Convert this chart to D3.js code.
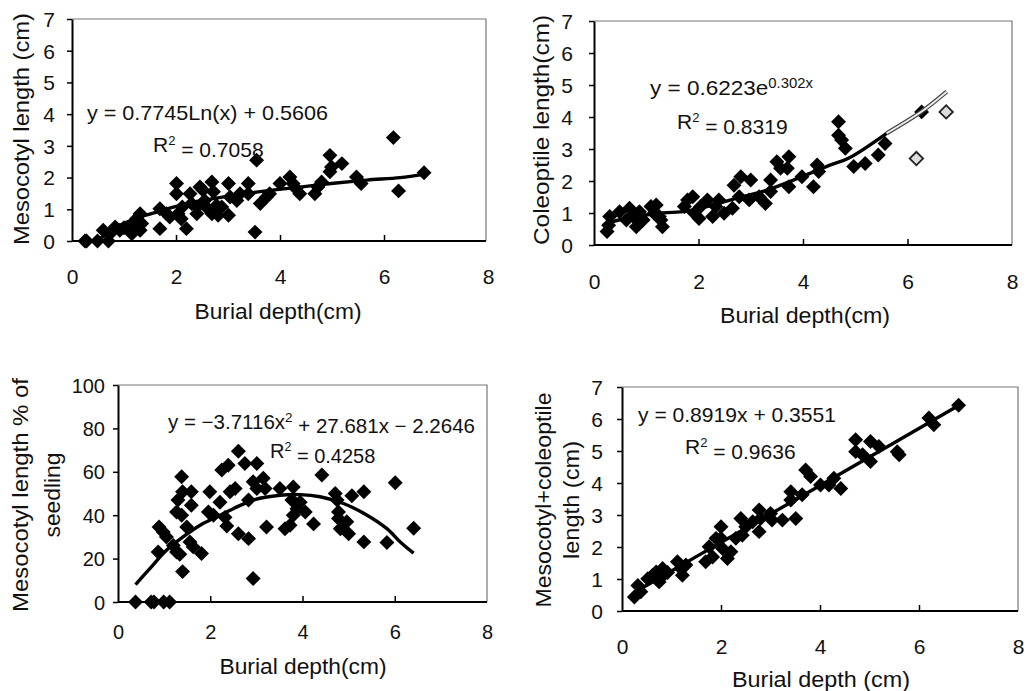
<!DOCTYPE html>
<html><head><meta charset="utf-8">
<script src="https://cdn.jsdelivr.net/npm/d3@7"></script>
<style>
body{margin:0;background:#fff}
text{font-family:"Liberation Sans",Arial,sans-serif;fill:#111}
</style>
</head><body>
<svg id="c" width="1026" height="691"></svg>
<script>
// ---------- tick labels ----------
const xTicks = [0, 2, 4, 6, 8];
const yTicksCm = [0, 1, 2, 3, 4, 5, 6, 7];
const yTicksPct = [0, 20, 40, 60, 80, 100];

// ---------- panel 1: mesocotyl length ----------
const mesoPts = [[0.25,0],[0.28,0],[0.49,0],[0.6,0.34],[0.7,0],[0.73,0.23],[0.83,0.44],[0.92,0.34],[1.0,0.42],
 [1.15,0.34],[1.18,0.55],[1.24,0.7],[1.31,0.86],[1.31,0.34],[1.34,0.55],[1.15,0.23],[1.69,0.39],[1.69,1.02],
 [1.82,0.86],[1.88,0.76],[2.01,1.81],[2.01,1.49],[2.04,0.86],[2.1,0.7],[2.2,0.39],[2.12,1.07],[2.27,1.49],
 [2.3,1.18],[2.4,1.07],[2.4,0.86],[2.46,1.7],[2.52,1.6],[2.55,1.28],[2.58,1.07],[2.69,1.86],[2.72,1.55],
 [2.69,0.86],[2.78,1.12],[2.81,0.81],[2.88,1.07],[3.01,1.81],[3.01,0.81],[3.04,1.39],[3.17,1.28],[3.23,1.49],
 [3.39,1.81],[3.39,1.49],[3.52,0.28],[3.55,2.55],[3.62,1.18],[3.74,1.39],[3.8,1.49],[4.0,1.81],[4.19,2.02],
 [4.25,1.81],[4.31,1.65],[4.38,1.49],[4.67,1.49],[4.73,1.7],[4.8,1.86],[4.96,2.7],[4.96,2.18],[4.99,2.33],
 [5.19,2.44],[5.47,2.02],[5.56,1.81],[6.18,3.26],[6.28,1.58],[6.77,2.15]];
const mesoTrend = [[0.5,0.02],[0.8,0.38],[1.2,0.7],[1.56,0.88],[1.95,1.07],[2.46,1.26],[3.1,1.44],[3.74,1.58],
 [4.38,1.7],[5.03,1.82],[5.67,1.92],[6.31,2.0],[6.77,2.1]];

// ---------- panel 2: coleoptile length ----------
const colePts = [[0.25,0.42],[0.3,0.89],[0.28,0.62],[0.49,1.04],[0.62,0.78],[0.68,1.15],[0.75,0.89],[0.81,0.57],
 [0.87,1.04],[0.94,0.78],[1.09,1.2],[1.15,0.99],[1.19,1.25],[1.25,0.89],[1.31,0.57],[1.28,0.78],[1.73,1.2],
 [1.79,1.41],[1.89,1.51],[1.92,0.99],[2.01,0.83],[2.04,1.2],[2.17,1.41],[2.27,0.89],[2.33,1.2],[2.39,1.41],
 [2.49,0.99],[2.65,1.15],[2.68,1.87],[2.81,2.13],[2.78,1.51],[3.0,2.03],[2.97,1.41],[3.16,1.51],[3.28,1.3],
 [3.38,2.03],[3.38,1.67],[3.5,2.6],[3.57,2.4],[3.73,2.76],[3.7,2.4],[3.73,1.82],[3.98,2.13],[4.2,1.82],
 [4.27,2.5],[4.3,2.3],[4.68,3.85],[4.68,3.43],[4.74,3.28],[4.81,3.02],[4.97,2.45],[5.19,2.55],[5.44,2.81],
 [5.57,3.17],[6.27,4.16]];
const coleLight = [[6.17,2.7],[6.74,4.16]];
const coleTrend = [[0.25,0.68],[0.68,0.86],[1.31,1.0],[1.76,1.05],[2.27,1.25],[2.77,1.48],[3.28,1.7],
 [3.85,2.05],[4.49,2.48],[4.87,2.71],[5.6,3.49],[6.27,4.17],[6.75,4.79]];

// ---------- panel 3: mesocotyl % of seedling ----------
const pctPts = [[0.38,0],[0.72,0],[0.78,0],[0.99,0],[1.12,0],[0.87,23],[0.89,34.6],[0.98,32.3],[1.05,30],
 [1.2,26],[1.27,23],[1.34,22],[1.4,14],[1.38,57.7],[1.3,47],[1.27,41.5],[1.38,40],[1.4,50.8],[1.59,50.8],
 [1.59,44.6],[1.56,27.7],[1.63,25.4],[1.81,22.3],[1.49,34.6],[1.99,50.8],[1.96,41.5],[2.07,40],[2.21,46],
 [2.25,60.8],[2.39,63],[2.32,39],[2.36,35],[2.43,50.8],[2.54,52.3],[2.61,69.5],[2.61,31.5],[2.75,63.8],
 [2.83,29.2],[2.83,47],[2.93,10.8],[2.93,55.4],[3.01,63.8],[3.01,52.3],[3.15,57],[3.19,52.3],[3.22,34.6],
 [3.51,52.3],[3.62,33.8],[3.73,35.4],[3.8,53],[3.77,47],[3.88,43],[3.8,40],[3.95,46],[4.06,41.5],[4.24,36],
 [4.42,58.5],[4.71,50],[4.75,47],[4.78,41.5],[4.78,38.5],[4.82,33.8],[4.96,37],[5.0,31.5],[5.07,49],
 [5.33,50.8],[5.33,27.7],[5.83,27.4],[6.01,55],[6.41,34]];
const pctTrend = [[0.38,8],[0.69,15.4],[1.05,23.8],[1.41,30],[1.78,35.4],[2.14,39.2],[2.5,43],[2.93,47],
 [3.51,49.2],[3.95,49.5],[4.38,48.5],[4.89,45.4],[5.4,40],[5.83,33.8],[6.12,27.7],[6.41,22.5]];

// ---------- panel 4: mesocotyl + coleoptile ----------
const sumPts = [[0.25,0.44],[0.32,0.8],[0.38,0.6],[0.52,1.01],[0.62,1.12],[0.69,1.22],[0.75,0.91],[0.82,1.33],
 [0.79,1.05],[0.92,1.2],[1.12,1.54],[1.19,1.33],[1.22,1.12],[1.29,1.44],[1.69,1.54],[1.76,2.01],[1.83,1.69],
 [1.9,2.27],[2.0,2.63],[2.0,2.27],[2.03,1.95],[2.13,1.64],[2.2,1.85],[2.3,2.27],[2.4,2.89],[2.43,2.37],
 [2.5,2.63],[2.64,2.79],[2.77,2.48],[2.77,3.16],[2.8,2.89],[3.0,3.05],[3.03,2.84],[3.24,2.84],[3.51,2.89],
 [3.41,3.73],[3.41,3.47],[3.64,3.63],[3.71,4.41],[3.81,4.2],[4.01,3.94],[4.18,3.94],[4.28,4.15],[4.42,3.83],
 [4.72,5.35],[4.72,4.98],[4.86,4.88],[5.02,5.3],[5.02,4.67],[5.19,5.14],[5.56,4.98],[5.6,4.88],[6.2,6.03],
 [6.3,5.82],[6.8,6.43]];
const sumTrend = [[0.25,0.58],[1.5,1.7],[3,3.03],[4.5,4.37],[6.8,6.42]];

const svg = d3.select('#c');

function panel(o) {
  const x = d3.scaleLinear().domain([0, 8]).range([o.l, o.r8]);
  const y = d3.scaleLinear().domain(o.yDom).range([o.b, o.t]);
  const g = svg.append('g');

  // frame (top / right)
  g.append('path')
    .attr('d', `M${o.l},${o.t}H${o.rb}V${o.b}`)
    .attr('fill', 'none').attr('stroke', '#777').attr('stroke-width', 1.2);

  // x axis
  const gx = g.append('g').attr('transform', `translate(0,${o.b})`)
    .call(d3.axisBottom(x).tickValues(xTicks).tickSizeInner(-6).tickSizeOuter(0).tickFormat(d3.format('d')));
  gx.select('.domain').attr('stroke', '#000').attr('stroke-width', 2).attr('d', `M${o.l},0H${o.rb}`);
  gx.selectAll('.tick line').attr('stroke', '#000').attr('stroke-width', 1.5)
    .filter(d => d === 0 || d === 8).remove();
  gx.selectAll('.tick text').attr('y', o.xLabY - o.b).attr('dy', '0.35em')
    .style('font-size', o.fs + 'px').style('fill', '#111');

  // y axis
  const gy = g.append('g').attr('transform', `translate(${o.l},0)`)
    .call(d3.axisLeft(y).tickValues(o.yTicks).tickSizeInner(5).tickSizeOuter(0).tickFormat(d3.format('d')));
  gy.select('.domain').attr('stroke', '#000').attr('stroke-width', 2);
  gy.selectAll('.tick line').attr('stroke', '#000').attr('stroke-width', 1.5);
  gy.selectAll('.tick text').attr('x', o.yLabX - o.l).attr('dy', '0.35em')
    .style('font-size', o.fs + 'px').style('fill', '#111');

  // points
  const sym = d3.symbol().type(d3.symbolSquare).size(112);
  g.selectAll('path.pt').data(o.pts).join('path').attr('class', 'pt')
    .attr('d', sym)
    .attr('transform', d => `translate(${x(d[0])},${y(d[1])}) rotate(45)`)
    .attr('fill', '#000');
  if (o.light) {
    g.selectAll('path.lt').data(o.light).join('path').attr('class', 'lt')
      .attr('d', d3.symbol().type(d3.symbolSquare).size(90))
      .attr('transform', d => `translate(${x(d[0])},${y(d[1])}) rotate(45)`)
      .attr('fill', '#ddd').attr('stroke', '#222').attr('stroke-width', 1.8);
  }

  // trend
  const line = d3.line().x(d => x(d[0])).y(d => y(d[1])).curve(d3.curveCatmullRom);
  if (o.hollowFrom !== undefined) {
    const solid = o.trend.filter(d => d[0] <= o.hollowFrom + 0.01);
    const hollow = o.trend.filter(d => d[0] >= o.hollowFrom - 0.01);
    g.append('path').attr('d', line(solid)).attr('fill', 'none').attr('stroke', '#000').attr('stroke-width', 3.4);
    g.append('path').attr('d', line(hollow)).attr('fill', 'none').attr('stroke', '#444').attr('stroke-width', 4.2);
    g.append('path').attr('d', line(hollow)).attr('fill', 'none').attr('stroke', '#eee').attr('stroke-width', 1.8);
  } else {
    g.append('path').attr('d', line(o.trend)).attr('fill', 'none').attr('stroke', '#000').attr('stroke-width', 3.4);
  }

  // titles
  g.append('text').attr('x', o.xtX).attr('y', o.xtY).attr('dy', '0.35em').attr('text-anchor', 'middle')
    .style('font-size', '22px').attr('textLength', o.xtW).attr('lengthAdjust', 'spacingAndGlyphs').text(o.xTitle);
  o.yTitle.forEach((t, i) => {
    g.append('text').attr('transform', `translate(${o.ytX[i]},${o.ytY}) rotate(-90)`)
      .attr('dy', '0.35em').attr('text-anchor', 'middle').style('font-size', '22px')
      .attr('textLength', o.ytW[i]).attr('lengthAdjust', 'spacingAndGlyphs').text(t);
  });

  // equations
  const eq = g.append('text').attr('x', o.eqX).attr('y', o.eqY).attr('dy', '0.35em').style('font-size', o.eqFs + 'px')
    .attr('textLength', o.eqW).attr('lengthAdjust', 'spacingAndGlyphs');
  o.eq.forEach(part => {
    if (part.sup) eq.append('tspan').attr('dy', '-0.55em').style('font-size', (o.eqFs * 0.66) + 'px').text(part.sup);
    else eq.append('tspan').attr('dy', part.after ? '0.55em' : null).text(part.t);
  });
  const r2 = g.append('text').attr('x', o.r2X).attr('y', o.r2Y).attr('dy', '0.35em').style('font-size', o.eqFs + 'px');
  r2.append('tspan').text('R');
  r2.append('tspan').attr('dy', '-0.6em').style('font-size', (o.eqFs * 0.62) + 'px').text('2');
  r2.append('tspan').attr('dy', '0.6em').text(' = ' + o.r2);
}

panel({l:72, r8:488, rb:486, t:19, b:241, yDom:[0,7], yTicks:yTicksCm, pts:mesoPts, trend:mesoTrend,
  fs:21, xLabY:277, yLabX:55, xTitle:'Burial depth(cm)', xtX:278, xtY:311, xtW:167,
  yTitle:['Mesocotyl length (cm)'], ytX:[21], ytY:129, ytW:[232],
  eqFs:21, eqX:87, eqY:113, eqW:241, eq:[{t:'y = 0.7745Ln(x) + 0.5606'}], r2X:153, r2Y:145, r2:'0.7058'});

panel({l:594, r8:1012, rb:1012, t:21, b:245, yDom:[0,7], yTicks:yTicksCm, pts:colePts, light:coleLight,
  trend:coleTrend, hollowFrom:5.6,
  fs:21, xLabY:282, yLabX:573, xTitle:'Burial depth(cm)', xtX:805, xtY:315, xtW:170,
  yTitle:['Coleoptile length(cm)'], ytX:[541], ytY:130, ytW:[230],
  eqFs:21, eqX:650, eqY:88, eqW:163, eq:[{t:'y = 0.6223e'},{sup:'0.302x'}], r2X:677, r2Y:122, r2:'0.8319'});

panel({l:118, r8:487, rb:487, t:385, b:602, yDom:[0,100], yTicks:yTicksPct, pts:pctPts, trend:pctTrend,
  fs:20, xLabY:632, yLabX:105, xTitle:'Burial depth(cm)', xtX:303, xtY:666, xtW:167,
  yTitle:['Mesocotyl length % of','seedling'], ytX:[20,52], ytY:495, ytW:[234,85],
  eqFs:20, eqX:168, eqY:422, eqW:307,
  eq:[{t:'y = \u22123.7116x'},{sup:'2'},{t:' + 27.681x \u2212 2.2646', after:true}], r2X:270, r2Y:451, r2:'0.4258'});

panel({l:622, r8:1018, rb:1018, t:387, b:611, yDom:[0,7], yTicks:yTicksCm, pts:sumPts, trend:sumTrend,
  fs:21, xLabY:647, yLabX:603, xTitle:'Burial depth (cm)', xtX:821, xtY:679, xtW:178,
  yTitle:['Mesocotyl+coleoptile','length (cm)'], ytX:[543,571], ytY:500, ytW:[215,118],
  eqFs:21, eqX:638, eqY:415, eqW:198, eq:[{t:'y = 0.8919x + 0.3551'}], r2X:685, r2Y:447, r2:'0.9636'});
</script>
</body></html>
